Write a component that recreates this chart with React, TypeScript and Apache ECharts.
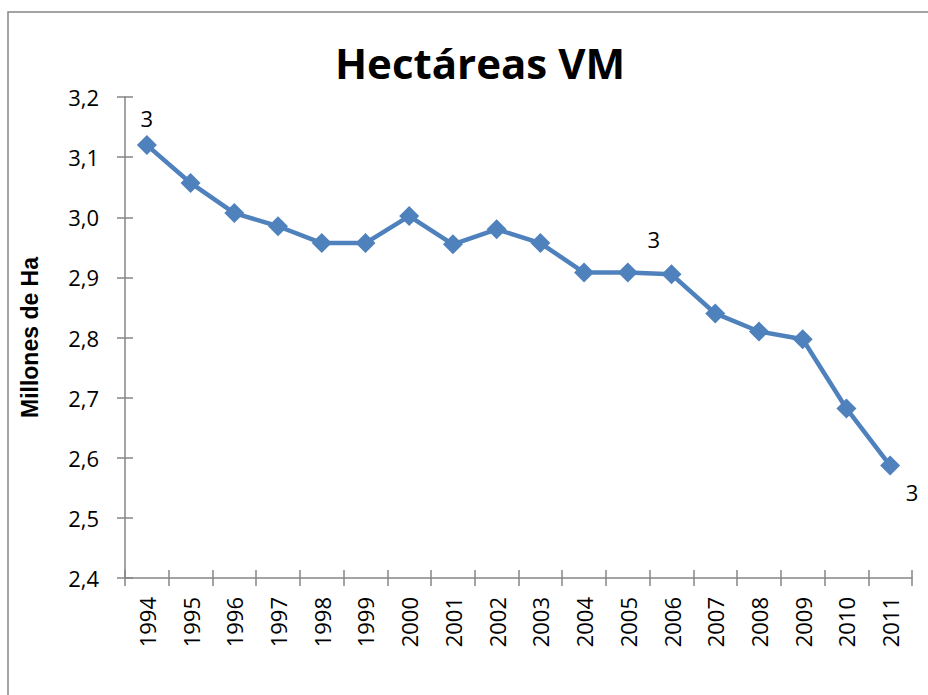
import React, { useEffect, useRef } from "react";
import * as echarts from "echarts";

const years = ["1994","1995","1996","1997","1998","1999","2000","2001","2002","2003","2004","2005","2006","2007","2008","2009","2010","2011"];
const hectares = [3.12, 3.057, 3.007, 2.985, 2.957, 2.957, 3.002, 2.955, 2.98, 2.957, 2.908, 2.908, 2.905, 2.84, 2.81, 2.797, 2.682, 2.587];
const labeledIndices = [0, 11, 17];
const yMin = 2.4;
const yMax = 3.2;
const yStep = 0.1;
const titleText = "Hectáreas VM";
const yAxisName = "Millones de Ha";

const FONT = "'Open Sans', sans-serif";
const AXIS_COLOR = "#868686";

export default function App() {
  const ref = useRef<HTMLDivElement>(null);
  useEffect(() => {
    if (!ref.current) return;
    const chart = echarts.init(ref.current, undefined, { renderer: "svg" });
    const labelOffsets: Record<number, [number, number]> = {
      0: [0, -27],
      11: [26, -34],
      17: [22, 26],
    };
    const seriesData = hectares.map((v, i) => {
      if (labeledIndices.includes(i)) {
        return {
          value: v,
          label: {
            show: true,
            position: "inside",
            offset: labelOffsets[i],
            formatter: () => String(Math.round(v)),
            color: "#000",
            fontFamily: FONT,
            fontSize: 22,
          },
        };
      }
      return v;
    });
    const yLabel = (v: number) => v.toFixed(1).replace(".", ",");
    chart.setOption({
      animation: false,
      backgroundColor: "#fff",
      title: {
        text: titleText,
        left: 475,
        top: 36,
        textAlign: "center",
        textStyle: { fontFamily: FONT, fontWeight: "bold", fontSize: 42, color: "#000" },
      },
      graphic: [
        {
          type: "rect",
          shape: { x: 8, y: 12, width: 940, height: 720 },
          style: { fill: "none", stroke: AXIS_COLOR, lineWidth: 1.5 },
          silent: true,
        },
      ],
      grid: { left: 125, right: 16, top: 97, bottom: 117 },
      xAxis: [
        {
          type: "category",
          data: years,
          boundaryGap: true,
          axisLine: { lineStyle: { color: AXIS_COLOR, width: 1.5 } },
          axisTick: { show: true, inside: false, length: 8, lineStyle: { color: AXIS_COLOR, width: 1.5 } },
          axisLabel: { rotate: 90, margin: 19, color: "#000", fontFamily: FONT, fontSize: 22, interval: 0 },
        },
        {
          type: "category",
          data: years,
          position: "bottom",
          boundaryGap: true,
          axisLine: { show: false },
          axisTick: { show: true, inside: true, length: 8, lineStyle: { color: AXIS_COLOR, width: 1.5 } },
          axisLabel: { show: false },
        },
      ],
      yAxis: [
        {
          type: "value",
          min: yMin,
          max: yMax,
          interval: yStep,
          name: yAxisName,
          nameLocation: "middle",
          nameGap: 84,
          nameRotate: 90,
          nameTextStyle: { fontFamily: "'Liberation Sans', Arial, sans-serif", fontWeight: "bold", fontSize: 23, color: "#000" },
          axisLine: { show: true, lineStyle: { color: AXIS_COLOR, width: 1.5 } },
          axisTick: { show: true, inside: false, length: 8, lineStyle: { color: AXIS_COLOR, width: 1.5 } },
          axisLabel: { formatter: yLabel, margin: 26, color: "#000", fontFamily: FONT, fontSize: 22 },
          splitLine: { show: false },
        },
        {
          type: "value",
          min: yMin,
          max: yMax,
          interval: yStep,
          position: "left",
          offset: 0,
          axisLine: { show: false },
          axisTick: { show: true, inside: true, length: 8, lineStyle: { color: AXIS_COLOR, width: 1.5 } },
          axisLabel: { show: false },
          splitLine: { show: false },
        },
      ],
      series: [
        {
          type: "line",
          xAxisIndex: 0,
          yAxisIndex: 0,
          data: seriesData,
          symbol: "diamond",
          symbolSize: 20,
          lineStyle: { color: "#4F81BD", width: 4.5 },
          itemStyle: { color: "#4F81BD" },
          label: { show: false },
        },
      ],
    });
    return () => chart.dispose();
  }, []);
  return <div ref={ref} style={{ position: "fixed", left: 0, top: 0, width: 928, height: 695 }} />;
}
